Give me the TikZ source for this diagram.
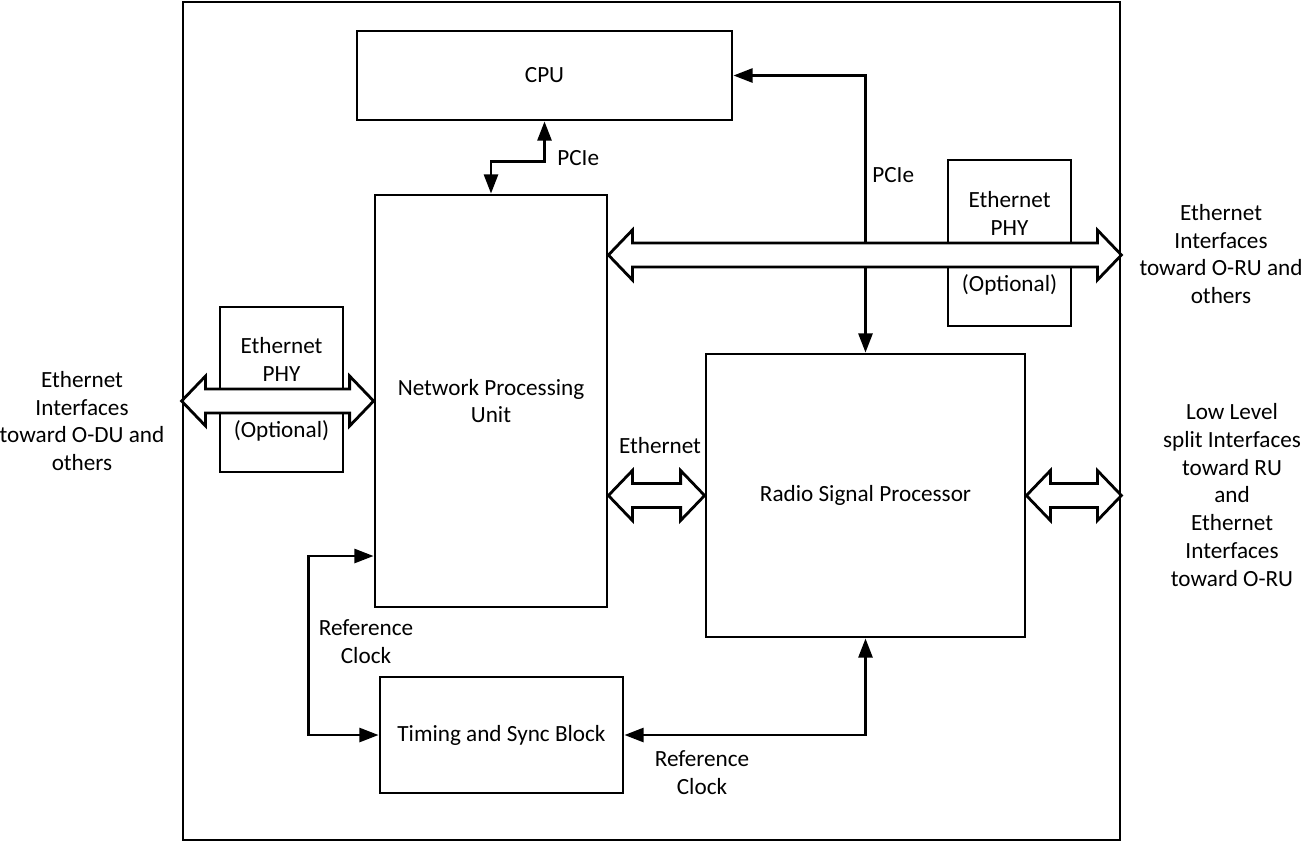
\documentclass[tikz,border=0pt]{standalone}
\usepackage{fontspec}
\setmainfont{Carlito}
\usetikzlibrary{arrows.meta,calc}

\def\anchoE{0.24cm} % medio ancho del cuerpo
\def\anchoP{0.5cm}  % medio ancho de la punta
\def\largoP{0.48cm} % largo de la punta
% flecha doble ancha (horizontal) entre dos puntos
\newcommand\dflecha[2]{\draw[flecha] let \p1=(#1), \p2=(#2) in
 (\x1,\y1) -- (\x1+\largoP,\y1+\anchoP) -- (\x1+\largoP,\y1+\anchoE)
 -- (\x2-\largoP,\y1+\anchoE) -- (\x2-\largoP,\y1+\anchoP) -- (\x2,\y1)
 -- (\x2-\largoP,\y1-\anchoP) -- (\x2-\largoP,\y1-\anchoE)
 -- (\x1+\largoP,\y1-\anchoE) -- (\x1+\largoP,\y1-\anchoP) -- cycle;}

\begin{document}
\begin{tikzpicture}[x=0.02cm,y=-0.02cm,
 caja/.style={draw,line width=1.6pt,align=center,inner sep=0pt,font=\fontsize{13.2}{15.9}\selectfont},
 sig/.style={line width=1.6pt,{Triangle[length=11pt,width=8pt]}-{Triangle[length=11pt,width=8pt]}},
 flecha/.style={line width=1.6pt,fill=white,line join=miter},
 txt/.style={align=center,inner sep=0pt,font=\fontsize{13.2}{15.9}\selectfont}]
 \def\px{0.02cm}
 \useasboundingbox (0,0) rectangle (1304,843);
 \node[caja,minimum width=937*\px,minimum height=838*\px] (board) at (651.5,421) {};
 \node[caja,minimum width=375*\px,minimum height=89*\px] (cpu) at (544.5,75.5) {CPU};
 \node[caja,minimum width=232*\px,minimum height=412*\px] (npu) at (491,401) {Network Processing\\Unit};
 \node[caja,minimum width=319*\px,minimum height=283*\px] (rsp) at (865.5,495.5) {Radio Signal Processor};
 \node[caja,minimum width=243*\px,minimum height=116*\px] (tsb) at (501.5,735) {Timing and Sync Block};
 \node[caja,minimum width=123*\px,minimum height=165*\px] (phyL) at (281.5,389.5) {Ethernet\\PHY\\\mbox{}\\(Optional)};
 \node[caja,minimum width=123*\px,minimum height=166*\px] (phyR) at (1009.5,243) {Ethernet\\PHY\\\mbox{}\\(Optional)};
 % PCIe
 \draw[sig] (npu.north) -- ++(0,-32) -| (cpu.south);
 \draw[sig] (cpu.east) -| (rsp.north);
 % reloj de referencia
 \coordinate (clkN) at (npu.west |- 0,556);
 \draw[sig] (clkN) -| ($(tsb.west)+(-70,0)$) -- (tsb.west);
 \draw[sig] (tsb.east) -| (rsp.south);
 % etiquetas
 \node[txt,anchor=west] (pcieL) at (557,158) {PCIe};
 \node[txt,anchor=west] (pcieR) at (872,175) {PCIe};
 \node[txt] (ethLbl) at (660,446) {Ethernet};
 \node[txt] (clkL) at (366,642) {Reference\\Clock};
 \node[txt] (clkB) at (702,773) {Reference\\Clock};
 \node[txt] (oduTxt) at (82,421) {Ethernet\\Interfaces\\toward O-DU and\\others};
 \node[txt] (oruTxt) at (1221,254) {Ethernet\\Interfaces\\toward O-RU and\\others};
 \node[txt] (ruTxt) at (1232,495) {Low Level\\split Interfaces\\toward RU\\and\\Ethernet\\Interfaces\\toward O-RU};
 % flechas anchas
 \coordinate (busY) at (0,255);
 \dflecha{npu.east |- busY}{board.east |- busY}
 \dflecha{board.west |- npu.west}{npu.west}
 \dflecha{npu.east |- rsp.west}{rsp.west}
 \dflecha{rsp.east}{board.east |- rsp.east}
\end{tikzpicture}
\end{document}
